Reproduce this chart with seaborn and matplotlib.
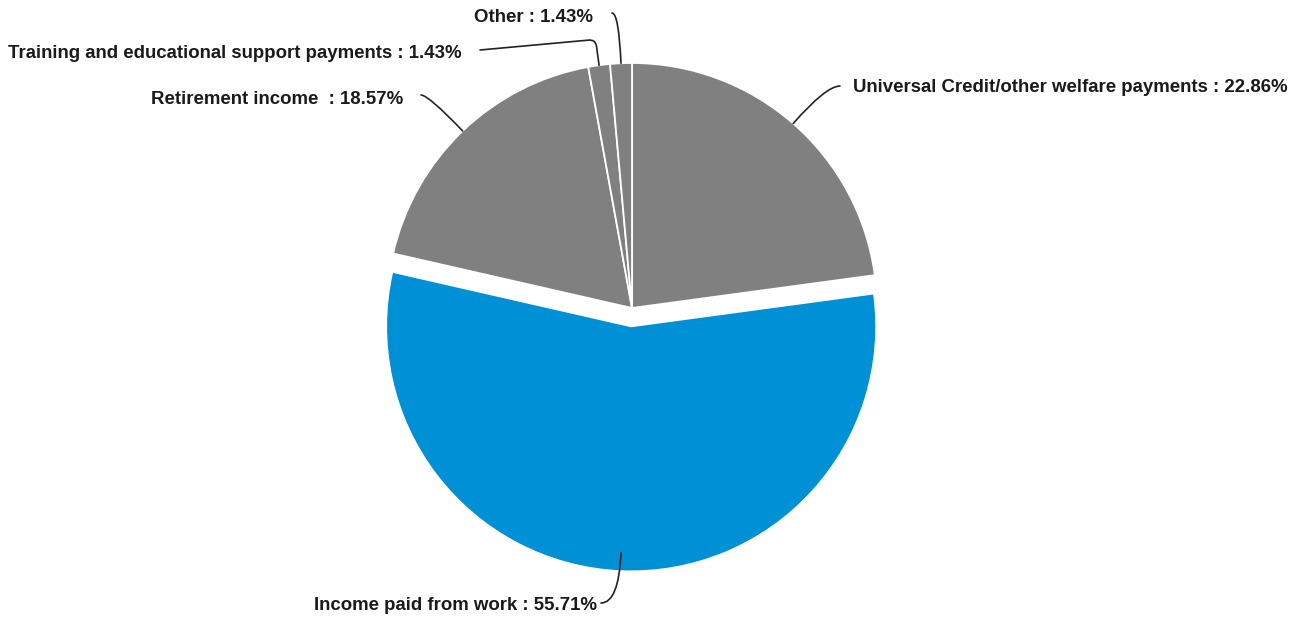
import numpy as np
import matplotlib
matplotlib.use("Agg")
import matplotlib.pyplot as plt
import seaborn as sns

# Income sources, in clockwise order from 12 o'clock
categories = [
    "Universal Credit/other welfare payments",
    "Income paid from work",
    "Retirement income ",
    "Training and educational support payments",
    "Other",
]
shares = [22.86, 55.71, 18.57, 1.43, 1.43]
slice_colors = ["#808080", "#0090D5", "#808080", "#808080", "#808080"]
explode = [0, 0.075, 0, 0, 0]

sns.set_theme(style="white")
plt.rcParams["font.family"] = ["Liberation Sans", "DejaVu Sans"]

W, H = 1303, 619
fig = plt.figure(figsize=(W / 100, H / 100), dpi=100)
ax = fig.add_axes([0, 0, 1, 1])


def Y(y_top):
    """Convert a top-down pixel row to the axes' upward y."""
    return H - y_top


cx, cy, R = 632, Y(308), 245
# pie() offsets exploded wedges in data units, so scale by the radius
ax.pie(
    shares,
    colors=slice_colors,
    explode=[e * R for e in explode],
    startangle=90,
    counterclock=False,
    center=(cx, cy),
    radius=R,
    wedgeprops=dict(edgecolor="white", linewidth=1.3),
    frame=True,
)
ax.set_xlim(0, W)
ax.set_ylim(0, H)
ax.set_axis_off()

# Mid-angle of each wedge (standard math angle, degrees)
fracs = np.array(shares) / np.sum(shares)
cum = np.concatenate([[0], np.cumsum(fracs)])
mid_theta = [90 - 360 * (cum[i] + cum[i + 1]) / 2 for i in range(len(shares))]

# Label layout: text anchor, alignment, leader start, leader end depth, curve
layout = [
    dict(text=(853, 88), ha="left", start=(840, 86), depth=1.0, style="angle3,angleA=0"),
    dict(text=(597, 605), ha="right", start=(601, 603), depth=0.925, style="angle3,angleA=0"),
    dict(text=(403, 100), ha="right", start=(421, 95), depth=1.0, style="angle3,angleA=0"),
    dict(text=(462, 54), ha="right", start=(480, 50), depth=1.0, style="angle,angleA=5.2,rad=7"),
    dict(text=(593, 17), ha="right", start=(612, 13), depth=1.0, style="angle3,angleA=0"),
]

for i, (cat, val) in enumerate(zip(categories, shares)):
    lay = layout[i]
    th = np.deg2rad(mid_theta[i])
    off = explode[i] * R
    ox, oy = cx + off * np.cos(th), cy + off * np.sin(th)
    ax_pt = (ox + lay["depth"] * R * np.cos(th), oy + lay["depth"] * R * np.sin(th))
    sx, sy = lay["start"]
    ax.annotate(
        "",
        xy=ax_pt,
        xytext=(sx, Y(sy)),
        arrowprops=dict(
            arrowstyle="-",
            color="#222222",
            lw=1.2,
            shrinkA=0,
            shrinkB=0,
            connectionstyle=f"{lay['style']},angleB={mid_theta[i]:.2f}",
        ),
    )
    tx, ty = lay["text"]
    ax.text(
        tx,
        Y(ty),
        f"{cat} : {val:.2f}%",
        ha=lay["ha"],
        va="center",
        fontsize=13.4,
        fontweight="bold",
        color="#1a1a1a",
    )

fig.savefig("out.png", dpi=100, facecolor="white")
